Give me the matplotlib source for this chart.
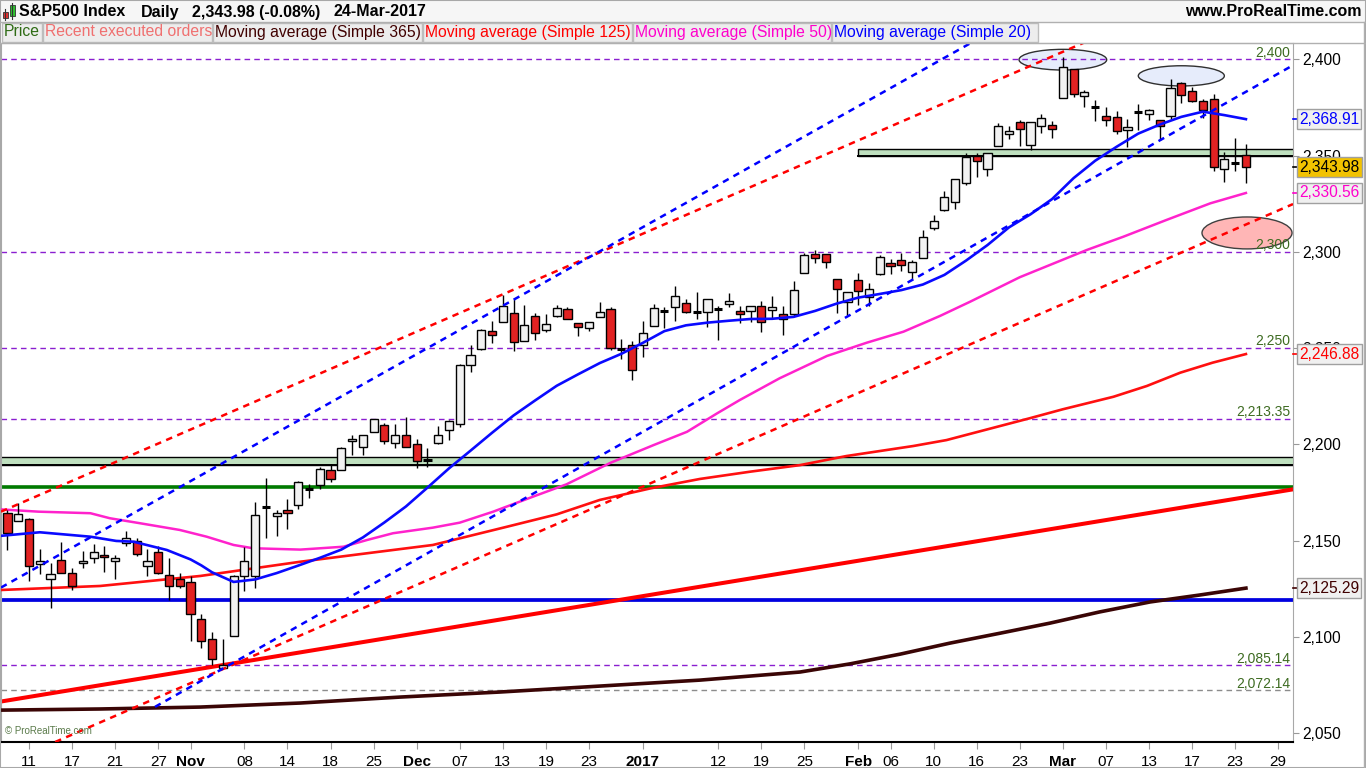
import matplotlib
matplotlib.use("Agg")
import matplotlib.pyplot as plt
import matplotlib.transforms as mtransforms
from matplotlib.patches import Rectangle, Ellipse

plt.rcParams['font.family'] = ['Liberation Sans', 'DejaVu Sans']

W, H = 1366, 768

# daily bars 07-Oct-2016 .. 24-Mar-2017, x = trading day number
opens = [2164.19, 2160.39, 2161.35, 2137.67, 2130.26, 2139.68, 2132.95, 2138.31, 2140.81, 2142.51,
         2139.43, 2148.50, 2149.72, 2136.97, 2144.06, 2132.23, 2129.78, 2128.68, 2109.43, 2098.80,
         2083.79, 2100.59, 2131.56, 2131.56, 2167.49, 2162.71, 2165.64, 2168.29, 2177.53, 2178.61,
         2186.85, 2186.43, 2201.56, 2198.55, 2206.27, 2210.21, 2200.76, 2204.97, 2200.17, 2191.12,
         2200.65, 2207.26, 2210.48, 2241.13, 2249.73, 2258.83, 2263.32, 2268.35, 2253.77, 2266.81,
         2259.24, 2266.50, 2270.54, 2262.93, 2260.25, 2266.23, 2270.23, 2249.50, 2251.61, 2251.57,
         2261.60, 2268.18, 2271.14, 2273.59, 2269.72, 2268.60, 2271.14, 2272.74, 2269.14, 2269.14,
         2271.90, 2269.96, 2267.78, 2267.88, 2288.88, 2298.63, 2299.02, 2286.01, 2274.02, 2285.59,
         2276.69, 2288.54, 2294.28, 2295.87, 2289.55, 2296.70, 2312.27, 2321.72, 2326.12, 2335.58,
         2349.64, 2343.01, 2354.91, 2361.11, 2367.50, 2355.73, 2365.23, 2366.08, 2380.13, 2394.75,
         2380.92, 2375.23, 2370.74, 2369.81, 2363.49, 2372.52, 2371.56, 2368.55, 2370.34, 2387.71,
         2383.71, 2378.24, 2379.32, 2343.00, 2345.97, 2350.42]
highs = [2165.86, 2169.60, 2161.56, 2145.36, 2138.19, 2149.19, 2135.61, 2144.38, 2148.44, 2147.18,
         2142.63, 2154.79, 2151.44, 2145.73, 2147.13, 2140.72, 2133.25, 2131.45, 2111.76, 2102.56,
         2099.07, 2132.00, 2146.87, 2170.10, 2182.30, 2165.92, 2171.36, 2180.84, 2179.22, 2188.06,
         2189.89, 2198.70, 2204.80, 2204.72, 2213.35, 2211.14, 2210.46, 2214.10, 2202.60, 2197.95,
         2209.42, 2212.78, 2241.63, 2251.69, 2259.80, 2264.03, 2277.53, 2276.20, 2272.12, 2268.05,
         2267.47, 2272.56, 2271.23, 2263.18, 2263.79, 2273.82, 2271.31, 2254.51, 2253.58, 2263.88,
         2272.82, 2271.50, 2282.10, 2275.49, 2279.27, 2275.32, 2271.78, 2278.68, 2272.08, 2272.01,
         2274.33, 2276.96, 2271.78, 2284.63, 2299.55, 2300.99, 2299.02, 2286.01, 2279.09, 2289.14,
         2283.97, 2298.31, 2296.18, 2299.40, 2295.91, 2311.08, 2319.23, 2331.58, 2337.58, 2351.30,
         2351.31, 2351.16, 2366.71, 2365.13, 2368.26, 2367.34, 2371.54, 2367.79, 2400.98, 2394.75,
         2383.89, 2378.80, 2375.12, 2373.09, 2369.08, 2376.86, 2374.42, 2368.55, 2390.01, 2388.10,
         2385.71, 2379.55, 2381.93, 2351.81, 2358.92, 2356.22]
lows = [2144.85, 2160.39, 2128.84, 2132.77, 2114.72, 2132.98, 2124.43, 2135.49, 2138.15, 2133.44,
        2130.09, 2146.91, 2141.93, 2131.59, 2132.52, 2119.36, 2125.53, 2097.85, 2094.00, 2085.23,
        2083.79, 2100.59, 2123.56, 2125.35, 2151.17, 2152.49, 2156.08, 2166.38, 2172.20, 2176.65,
        2180.38, 2186.43, 2194.51, 2194.51, 2206.27, 2200.36, 2198.15, 2198.81, 2187.44, 2188.37,
        2199.97, 2202.21, 2208.93, 2237.57, 2249.23, 2252.37, 2263.32, 2248.44, 2253.77, 2254.24,
        2258.21, 2266.14, 2265.15, 2256.08, 2258.84, 2266.15, 2249.11, 2244.56, 2233.62, 2245.13,
        2261.60, 2260.45, 2264.06, 2268.04, 2265.27, 2260.83, 2254.25, 2271.51, 2262.81, 2263.35,
        2258.41, 2265.01, 2257.02, 2266.68, 2288.88, 2294.08, 2291.62, 2268.04, 2267.21, 2272.44,
        2271.65, 2287.88, 2288.57, 2290.16, 2285.38, 2296.61, 2311.10, 2321.42, 2322.17, 2334.81,
        2338.87, 2339.58, 2354.91, 2358.34, 2355.09, 2352.87, 2361.87, 2358.96, 2380.13, 2380.17,
        2375.39, 2367.98, 2365.51, 2361.01, 2354.54, 2363.04, 2368.52, 2358.18, 2368.94, 2377.18,
        2377.64, 2369.66, 2341.90, 2336.45, 2342.13, 2335.74]
closes = [2153.74, 2163.66, 2136.73, 2139.18, 2132.55, 2132.98, 2126.50, 2139.60, 2144.29, 2141.34,
          2141.16, 2151.33, 2143.16, 2139.43, 2133.04, 2126.41, 2126.15, 2111.72, 2097.94, 2088.66,
          2085.18, 2131.52, 2139.56, 2163.26, 2167.48, 2164.45, 2164.20, 2180.39, 2176.94, 2187.12,
          2181.90, 2198.18, 2202.94, 2204.72, 2213.35, 2201.72, 2204.66, 2198.81, 2191.08, 2191.95,
          2204.71, 2212.23, 2241.35, 2246.19, 2259.53, 2256.96, 2271.72, 2253.28, 2262.03, 2258.07,
          2262.53, 2270.76, 2265.18, 2260.96, 2263.79, 2268.88, 2249.92, 2249.26, 2238.83, 2257.83,
          2270.75, 2269.00, 2276.98, 2268.90, 2268.90, 2275.32, 2270.44, 2274.64, 2267.89, 2271.89,
          2263.69, 2271.31, 2265.20, 2280.07, 2298.37, 2296.68, 2294.69, 2280.90, 2278.87, 2279.55,
          2280.85, 2297.42, 2292.56, 2293.08, 2294.67, 2307.87, 2316.10, 2328.25, 2337.58, 2349.25,
          2347.22, 2351.16, 2365.38, 2362.82, 2363.81, 2367.34, 2369.75, 2363.64, 2395.96, 2381.92,
          2383.12, 2375.31, 2368.39, 2362.98, 2364.87, 2372.60, 2373.47, 2365.45, 2385.26, 2381.38,
          2378.25, 2373.47, 2344.02, 2348.45, 2345.96, 2343.98]

tick_pos = [2, 6, 10, 14, 17, 22, 26, 30, 34, 38, 42, 46, 50, 54, 59, 66, 70, 74, 79, 82, 86,
            90, 94, 98, 102, 106, 110, 114, 118]
tick_lab = ["11", "17", "21", "27", "Nov", "08", "14", "18", "25", "Dec", "07", "13", "19", "23",
            "2017", "12", "19", "25", "Feb", "06", "10", "16", "23", "Mar", "07", "13", "17", "23", "29"]
bold_lab = ["Nov", "Dec", "2017", "Feb", "Mar"]
price_ticks = [2050, 2100, 2150, 2200, 2250, 2300, 2350, 2400]

# moving averages: (day number, value)
ma20_x = [-0.7, 3, 7.7, 10.1, 11.7, 14.8, 17, 18, 19, 21, 23, 25, 27, 29, 31, 33, 35, 37, 39, 41,
          43, 45, 47, 49, 51, 53, 55, 57, 59, 61, 63, 65, 67, 69, 71, 73, 75, 77, 79, 81, 83, 85,
          87, 89, 91, 93, 95, 97, 99, 101, 103, 105, 107, 109, 111, 113, 115]
ma20_y = [2152.4, 2154.3, 2152.0, 2149.8, 2149.4, 2145.1, 2140.2, 2137.1, 2133.5, 2128.5, 2129.8,
          2133.1, 2137.0, 2141.0, 2145.3, 2151.6, 2159.4, 2167.7, 2177.5, 2187.5, 2196.7, 2206.0,
          2215.0, 2222.8, 2230.4, 2236.4, 2242.2, 2247.0, 2252.7, 2258.8, 2261.8, 2263.2, 2264.2,
          2265.1, 2265.2, 2266.2, 2269.3, 2273.1, 2276.2, 2278.1, 2280.1, 2283.0, 2288.0, 2295.4,
          2303.5, 2312.7, 2319.5, 2327.4, 2338.3, 2347.3, 2354.6, 2361.4, 2366.1, 2370.1, 2372.8,
          2371.0, 2368.91]
ma50_x = [-0.7, 2.9, 7.7, 9.5, 12.3, 16, 18.5, 21, 22.8, 27.2, 31.2, 33.4, 35.8, 39.5, 42, 45.1,
          48.8, 51.9, 56, 60, 63.1, 65.9, 68, 71.7, 76.1, 79.8, 83.2, 86.6, 89.4, 94, 100.2, 103.6,
          107.6, 111.7, 115]
ma50_y = [2166.2, 2165.0, 2164.2, 2161.6, 2159.0, 2155.5, 2152.0, 2147.7, 2146.0, 2145.3, 2146.8,
          2150.3, 2153.8, 2156.7, 2159.3, 2165.0, 2172.8, 2179.2, 2190.4, 2199.6, 2206.5, 2216.1,
          2223.0, 2234.3, 2245.9, 2252.8, 2258.5, 2266.7, 2274.1, 2286.8, 2300.9, 2307.8, 2316.5,
          2325.2, 2330.56]
ma125_x = [-0.7, 8.6, 17.9, 27.2, 33.4, 39.5, 46.4, 51, 55, 59.7, 64.3, 69, 73.6, 77.9, 84.1, 87.2,
           91.9, 94.9, 98, 102.7, 105.8, 108.9, 111.9, 115]
ma125_y = [2124.3, 2126.4, 2131.6, 2139.0, 2143.4, 2147.7, 2157.2, 2163.6, 2171.1, 2177.1, 2182.0,
           2185.8, 2189.2, 2193.9, 2199.1, 2202.2, 2209.1, 2213.5, 2218.2, 2224.7, 2230.3, 2237.2,
           2242.4, 2246.88]
ma365_x = [-0.7, 8.6, 17.9, 27.2, 36.5, 45.7, 55, 64.3, 73.6, 78.2, 82.9, 87.5, 92.2, 96.8, 101.4,
           106.1, 110.7, 115]
ma365_y = [2061.9, 2062.5, 2063.5, 2065.6, 2068.7, 2071.3, 2074.4, 2077.5, 2081.7, 2085.9, 2091.0,
           2096.7, 2101.9, 2107.1, 2112.9, 2118.1, 2121.7, 2125.29]

# user drawings
levels = [2400, 2300, 2250, 2213.35, 2085.14, 2072.14]
level_txt = ["2,400", "2,300", "2,250", "2,213.35", "2,085.14", "2,072.14"]
level_col = ['#8a1fd0', '#8a1fd0', '#8a1fd0', '#8a1fd0', '#8a1fd0', '#8c8c8c']
red_upper = [(-0.69, 2164.8), (100.52, 2410.0)]
red_lower = [(73.59, 2213.5), (119.37, 2324.8)]
blue_upper = [(-0.69, 2125.3), (51.93, 2290.6)]
blue_lower_x = [13.7, 64.3, 119.4]
blue_lower_y = [2063.6, 2223.2, 2397.0]
red_thick = [(-0.69, 2066.3), (119.37, 2176.6)]
green_level = 2177.6
blue_level = 2119.2
zone_upper = (78.97, 2349.6, 2353.3)
zone_lower = (-2, 2189.1, 2193.2)

last_vals = [2368.91, 2343.98, 2330.56, 2246.88, 2125.29]
last_txt = ["2,368.91", "2,343.98", "2,330.56", "2,246.88", "2,125.29"]
last_col = ['#0000ff', '#000000', '#ff00cc', '#ff0000', '#400000']
last_bg = ['#f0f0f0', '#f2c200', '#f0f0f0', '#f0f0f0', '#f0f0f0']


def fy(y):
    return 1 - y / H


fig = plt.figure(figsize=(W / 100, H / 100), dpi=100)
fig.patch.set_facecolor('white')

ax = fig.add_axes([1 / W, 26 / H, 1292 / W, 699 / H])
ax.set_xlim(-0.6, 119.37)
ax.set_ylim(2045.35, 2408.47)
ax.set_facecolor('white')
trans = mtransforms.blended_transform_factory(ax.transAxes, ax.transData)

# horizontal levels
for lv, tx, col in zip(levels, level_txt, level_col):
    ax.axhline(lv, color=col, lw=1.0, ls=(0, (4, 3)), zorder=1.2)
    ax.annotate(tx, xy=(1, lv), xycoords=trans, xytext=(-2, 2), textcoords='offset points',
                ha='right', va='baseline', fontsize=10, color='#3d6b21', zorder=7)

# zones
for x0, y0, y1 in [zone_upper, zone_lower]:
    ax.add_patch(Rectangle((x0, y0), 200, y1 - y0, fc='#bfe0bf', ec='black', lw=1.0, zorder=1.5))
    ax.plot([x0, 200], [y0, y0], color='black', lw=1.4, zorder=1.6)

# ellipses
ax.add_patch(Ellipse((98.0, 2399.8), 8.14, 10.75, fc='#e6ecfb', ec='#303030', lw=1.0, zorder=1))
ax.add_patch(Ellipse((109.0, 2391.4), 7.99, 10.5, fc='#e6ecfb', ec='#303030', lw=1.0, zorder=1))
ax.add_patch(Ellipse((115.1, 2309.8), 8.36, 16.6, fc='#ffb6b6', ec='#404040', lw=1.0, zorder=1))

# thick lines
ax.axhline(green_level, color='#007a00', lw=2.6, zorder=2)
ax.axhline(blue_level, color='#0000e0', lw=2.7, zorder=2)
ax.axline(red_thick[0], red_thick[1], color='#ff0000', lw=2.9, zorder=2)

# moving averages
ax.plot(ma365_x, ma365_y, color='#3a0505', lw=2.6, zorder=3)
ax.plot(ma125_x, ma125_y, color='#ff1010', lw=1.9, zorder=3)
ax.plot(ma50_x, ma50_y, color='#ff22cc', lw=1.8, zorder=3)

# candles
w = 0.76
for i in range(len(closes)):
    o, h, l, c = opens[i], highs[i], lows[i], closes[i]
    ax.plot([i, i], [l, h], color='black', lw=1.0, zorder=4, solid_capstyle='butt')
    if abs(c - o) < 1.0:
        ax.plot([i - w / 2, i + w / 2], [c, c], color='black', lw=2.2, zorder=5,
                solid_capstyle='butt')
    else:
        ax.add_patch(Rectangle((i - w / 2, min(o, c)), w, abs(c - o),
                               fc='#f2f2f2' if c > o else '#e22222', ec='black', lw=1.0, zorder=5))

ax.plot(ma20_x, ma20_y, color='#0a0aff', lw=1.9, zorder=6)

# channels
dash = (0, (2.6, 2.2))
ax.axline(red_upper[0], red_upper[1], color='#ff0000', lw=1.8, ls=dash, zorder=6)
ax.axline(red_lower[0], red_lower[1], color='#ff0000', lw=1.8, ls=dash, zorder=6)
ax.axline(blue_upper[0], blue_upper[1], color='#0000ff', lw=1.8, ls=dash, zorder=6)
ax.plot(blue_lower_x, blue_lower_y, color='#0000ff', lw=1.8, ls=dash, zorder=6)

# axes styling
for s in ['left', 'top', 'right']:
    ax.spines[s].set_color('#a8a8a8')
ax.spines['bottom'].set_color('black')
ax.spines['bottom'].set_linewidth(1.5)

ax.yaxis.tick_right()
ax.set_yticks(price_ticks)
ax.set_yticklabels([f"{v:,}" for v in price_ticks])
ax.tick_params(axis='y', length=4, color='#999999', labelsize=11.2, pad=3)

ax.set_xticks(tick_pos)
ax.set_xticklabels(tick_lab)
ax.tick_params(axis='x', length=5, color='#999999', labelsize=11, pad=4)
for t in ax.get_xticklabels():
    if t.get_text() in bold_lab:
        t.set_fontweight('bold')

# last-value boxes on the price scale
for v, tx, col, bg in zip(last_vals, last_txt, last_col, last_bg):
    ax.plot([1.0, 1.004], [v, v], transform=trans, color=col, lw=1.2, clip_on=False, zorder=8)
    ax.text(1.0046, v, tx, transform=trans, ha='left', va='center', fontsize=11.2, color=col,
            clip_on=False, zorder=9,
            bbox=dict(boxstyle='square,pad=0.15', fc=bg, ec='#a0a0a0', lw=1.0))

ax.text(0.003, 0.008, "\u00a9 ProRealTime.com", transform=ax.transAxes, fontsize=7,
        color='#5a7a4a', ha='left', va='bottom', zorder=8)

# header rows
fig.patches.append(Rectangle((0, fy(22)), 1, 22 / H, transform=fig.transFigure,
                             fc='#f6f6f6', ec='none', zorder=0))
fig.add_artist(plt.Line2D([0, 1], [fy(22), fy(22)], transform=fig.transFigure,
                          color='#b0b0b0', lw=1))
fig.add_artist(plt.Line2D([0, 1], [fy(42.5), fy(42.5)], transform=fig.transFigure,
                          color='#b0b0b0', lw=1))

# candle icon
fig.add_artist(plt.Line2D([5 / W, 5 / W], [fy(20), fy(9)], transform=fig.transFigure,
                          color='#333333', lw=0.8))
fig.add_artist(Rectangle((3 / W, fy(18)), 5 / W, 6 / H, transform=fig.transFigure,
                         fc='#e03030', ec='#333333', lw=0.6))
fig.add_artist(plt.Line2D([12 / W, 12 / W], [fy(19), fy(3)], transform=fig.transFigure,
                          color='#333333', lw=0.8))
fig.add_artist(Rectangle((10 / W, fy(16)), 5 / W, 11 / H, transform=fig.transFigure,
                         fc='#30c030', ec='#333333', lw=0.6))

for x, s in [(19, "S&P500 Index"), (141, "Daily"), (192, "2,343.98 (-0.08%)"), (333, "24-Mar-2017")]:
    fig.text(x / W, fy(12), s, fontsize=11.5, fontweight='bold', ha='left', va='center')
fig.text(1362 / W, fy(12), "www.ProRealTime.com", fontsize=11.5, fontweight='bold',
         ha='right', va='center')

legend_items = [("Price", '#2e6b14'), ("Recent executed orders", '#f07070'),
                ("Moving average (Simple 365)", '#400000'),
                ("Moving average (Simple 125)", '#ff0000'),
                ("Moving average (Simple 50)", '#ff00cc'),
                ("Moving average (Simple 20)", '#0000ff')]
cell_x = [2, 43, 213, 423, 633, 832, 1039]
for (txt, col), x0, x1 in zip(legend_items, cell_x[:-1], cell_x[1:]):
    fig.add_artist(Rectangle((x0 / W, fy(42)), (x1 - x0 - 1) / W, 19 / H,
                             transform=fig.transFigure, fc='#ededed', ec='#bdbdbd', lw=1))
    fig.text((x0 + 2) / W, fy(32), txt, fontsize=11.3, color=col, ha='left', va='center')

# right panel / outer frame
fig.add_artist(plt.Line2D([1364 / W, 1364 / W], [0, fy(22)], transform=fig.transFigure,
                          color='#b0b0b0', lw=1))
fig.add_artist(Rectangle((0, 0), 1, 1, transform=fig.transFigure, fill=False,
                         ec='#a8a8a8', lw=1.5))

fig.savefig('out.png', dpi=100)
